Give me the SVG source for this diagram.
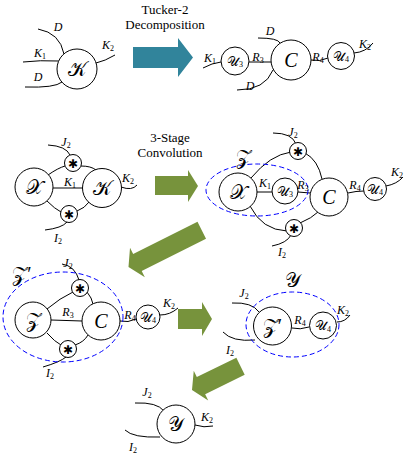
<svg xmlns="http://www.w3.org/2000/svg" width="407" height="456" viewBox="0 0 407 456">
<style>
.n{fill:#fff;stroke:#000;stroke-width:1}
.e{fill:none;stroke:#000;stroke-width:1}
.el{fill:none;stroke:#0000ff;stroke-width:1;stroke-dasharray:5,3}
.l{font-family:"Liberation Serif",serif;font-size:12px;font-style:italic;text-anchor:middle}
.s{font-size:8px;font-style:normal}
.t{font-family:"Liberation Serif",serif;font-size:13px;text-anchor:middle}
.big{font-family:"Liberation Serif","DejaVu Serif","Noto Sans",serif;font-size:20px;text-anchor:middle;dominant-baseline:central}
.sm{font-family:"Liberation Serif","DejaVu Serif","Noto Sans",serif;font-size:13px;text-anchor:middle;dominant-baseline:central}
.st{font-family:"DejaVu Sans",sans-serif;font-size:12px;text-anchor:middle;dominant-baseline:central}
</style>
<defs>
<g id="star"><circle class="n" r="8.5"/><text class="st" y="0.5">✱</text></g>
</defs>

<!-- arrows -->
<g id="arrows">
<polygon fill="#31849B" points="133,47 178,47 178,38 193,57.5 178,77 178,68 133,68"/>
<polygon fill="#77933C" points="155,176 188,176 188,170 198,186 188,202 188,195 155,195"/>
<polygon fill="#77933C" points="178,309 202,309 202,302 212,319 202,336 202,329 178,329"/>
<polygon fill="#77933C" transform="translate(128.5,267) rotate(153.3)" points="-82,-9.5 -10,-9.5 -10,-16.5 0,0 -10,16.5 -10,9.5 -82,9.5"/>
<polygon fill="#77933C" transform="translate(192,390) rotate(154)" points="-54,-9.5 -10,-9.5 -10,-16.5 0,0 -10,16.5 -10,9.5 -54,9.5"/>
</g>
<text class="t" x="165" y="14">Tucker-2</text>
<text class="t" x="165" y="29">Decomposition</text>
<text class="t" x="170" y="142">3-Stage</text>
<text class="t" x="170" y="157">Convolution</text>

<!-- connectors -->
<g id="connectors">
<path class="e" d="M38,29 Q60,33 64,54"/>
<path class="e" d="M23,62 Q40,60 58.7,61"/>
<path class="e" d="M25,87 Q55,88 62,82"/>
<path class="e" d="M96,63 Q105,61 115,55"/>
<path class="e" d="M203,68 Q212,63 221,62"/>
<path class="e" d="M249,62 L271,62"/>
<path class="e" d="M258,38 Q278,38 280,43"/>
<path class="e" d="M237,90 Q265,90 273,70"/>
<path class="e" d="M311,60 Q320,62 328,58"/>
<path class="e" d="M354,53 Q366,52 373,43"/>
<path class="e" d="M48,145 Q66,146 70,155"/>
<path class="e" d="M48,175 Q58,168 65,166"/>
<path class="e" d="M81,166 Q91,166 96,170"/>
<path class="e" d="M53,188 L83,188"/>
<path class="e" d="M47,201 Q55,209 61,212"/>
<path class="e" d="M77,211 Q85,208 89,202"/>
<path class="e" d="M45,230 Q62,228 67,222"/>
<path class="e" d="M121,187 Q132,191 137,185"/>
<path class="e" d="M273,133 Q292,133 296,144"/>
<path class="e" d="M251,178 Q270,155 291,152"/>
<path class="e" d="M305,153 Q318,160 322,179"/>
<path class="e" d="M250,206 Q262,230 287,231"/>
<path class="e" d="M300,223 Q312,218 318,212"/>
<path class="e" d="M272,246 Q287,243 291,235"/>
<path class="e" d="M257,192 L272,192"/>
<path class="e" d="M298,192 L310,193"/>
<path class="e" d="M348,193 Q356,191 364,191"/>
<path class="e" d="M386,186 Q397,184 403,177"/>
<path class="e" d="M62,264 Q75,266 79,280"/>
<path class="e" d="M43,367 Q60,362 66,357"/>
<path class="e" d="M47,309 Q60,298 73,292"/>
<path class="e" d="M87,292 Q92,298 93,304"/>
<path class="e" d="M47,333 Q55,342 61,345"/>
<path class="e" d="M75,345 Q84,342 88,335"/>
<path class="e" d="M51,320 L82,321"/>
<path class="e" d="M120,321 Q128,323 136,319"/>
<path class="e" d="M160,315 Q170,315 178,308"/>
<path class="e" d="M232,303 Q252,302 259,312"/>
<path class="e" d="M223,332 Q232,342 255,340"/>
<path class="e" d="M292,328 Q300,330 309,327"/>
<path class="e" d="M337,322 Q345,322 350,315"/>
<path class="e" d="M135,403 Q157,402 164,411"/>
<path class="e" d="M125,430 Q133,438 160,437"/>
<path class="e" d="M195,425 Q204,428 213,426"/>
</g>

<g id="groups">
<ellipse class="el" cx="257" cy="190" rx="51" ry="26"/>
<ellipse class="el" cx="63" cy="317" rx="60" ry="45"/>
<ellipse class="el" cx="292.5" cy="324.5" rx="46.5" ry="32.5"/>
</g>

<g id="n-K-top"><circle class="n" cx="77" cy="69" r="20"/><text class="big" x="77" y="69">𝒦</text></g>
<g id="n-U3-top"><circle class="n" cx="235" cy="61" r="14"/><text class="sm" x="235" y="61">𝒰<tspan class="s" dy="3">3</tspan></text></g>
<g id="n-C-top"><circle class="n" cx="291" cy="60" r="20"/><text class="big" x="291" y="60" font-style="italic">C</text></g>
<g id="n-U4-top"><circle class="n" cx="341" cy="56" r="13.5"/><text class="sm" x="341" y="56">𝒰<tspan class="s" dy="3">4</tspan></text></g>

<g id="n-X-r2l"><circle class="n" cx="34" cy="187" r="19"/><text class="big" x="34" y="187">𝒳</text></g>
<g id="n-K-r2l"><circle class="n" cx="102" cy="188" r="19.5"/><text class="big" x="102" y="188">𝒦</text></g>
<g id="n-s1-r2l"><use href="#star" x="73" y="163"/></g>
<g id="n-s2-r2l"><use href="#star" x="69" y="214"/></g>

<g id="n-X-r2r"><circle class="n" cx="238" cy="192" r="19"/><text class="big" x="238" y="192">𝒳</text></g>
<g id="n-U3-r2r"><circle class="n" cx="285" cy="191" r="13"/><text class="sm" x="285" y="191">𝒰<tspan class="s" dy="3">3</tspan></text></g>
<g id="n-C-r2r"><circle class="n" cx="329" cy="197" r="19"/><text class="big" x="329" y="197" font-style="italic">C</text></g>
<g id="n-U4-r2r"><circle class="n" cx="375" cy="189" r="11.5"/><text class="sm" x="375" y="189">𝒰<tspan class="s" dy="3">4</tspan></text></g>
<g id="n-s1-r2r"><use href="#star" x="298" y="151"/></g>
<g id="n-s2-r2r"><use href="#star" x="294" y="228"/></g>

<g id="n-Z-r3l"><circle class="n" cx="33" cy="320" r="18"/><text class="big" x="33" y="320">𝒵</text></g>
<g id="n-C-r3l"><circle class="n" cx="101" cy="321" r="19"/><text class="big" x="101" y="321" font-style="italic">C</text></g>
<g id="n-U4-r3l"><circle class="n" cx="148" cy="317" r="12"/><text class="sm" x="148" y="317">𝒰<tspan class="s" dy="3">4</tspan></text></g>
<g id="n-s1-r3l"><use href="#star" x="80" y="288"/></g>
<g id="n-s2-r3l"><use href="#star" x="68" y="349"/></g>

<g id="n-Zp-r3r"><circle class="n" cx="272.5" cy="326" r="19"/><text class="big" x="272.5" y="326">𝒵′</text></g>
<g id="n-U4-r3r"><circle class="n" cx="323" cy="325.5" r="13.5"/><text class="sm" x="323" y="325.5">𝒰<tspan class="s" dy="3">4</tspan></text></g>

<g id="n-Y-bot"><circle class="n" cx="176" cy="424" r="19"/><text class="big" x="176" y="424">𝒴</text></g>

<g id="labels">
<text class="l" x="58" y="31">D</text>
<text class="l" x="40" y="57">K<tspan class="s" dy="2">1</tspan></text>
<text class="l" x="38" y="81">D</text>
<text class="l" x="108" y="49">K<tspan class="s" dy="2">2</tspan></text>
<text class="l" x="210" y="62">K<tspan class="s" dy="2">1</tspan></text>
<text class="l" x="258" y="61">R<tspan class="s" dy="2">3</tspan></text>
<text class="l" x="270" y="35">D</text>
<text class="l" x="250" y="90">D</text>
<text class="l" x="318" y="61">R<tspan class="s" dy="2">4</tspan></text>
<text class="l" x="365" y="48">K<tspan class="s" dy="2">2</tspan></text>
<text class="l" x="66" y="146">J<tspan class="s" dy="2">2</tspan></text>
<text class="l" x="70" y="186">K<tspan class="s" dy="2">1</tspan></text>
<text class="l" x="128" y="182">K<tspan class="s" dy="2">2</tspan></text>
<text class="l" x="58" y="242">I<tspan class="s" dy="2">2</tspan></text>
<text class="l" x="293" y="136">J<tspan class="s" dy="2">2</tspan></text>
<text class="l" x="265" y="187">K<tspan class="s" dy="2">1</tspan></text>
<text class="l" x="303" y="189">R<tspan class="s" dy="2">3</tspan></text>
<text class="l" x="355" y="189">R<tspan class="s" dy="2">4</tspan></text>
<text class="l" x="397" y="176">K<tspan class="s" dy="2">2</tspan></text>
<text class="l" x="282" y="256">I<tspan class="s" dy="2">2</tspan></text>
<text class="big" x="243" y="157">𝒵</text>
<text class="big" x="22" y="274">𝒵′</text>
<text class="l" x="68" y="267">J<tspan class="s" dy="2">2</tspan></text>
<text class="l" x="50" y="377">I<tspan class="s" dy="2">2</tspan></text>
<text class="l" x="68" y="316">R<tspan class="s" dy="2">3</tspan></text>
<text class="l" x="130" y="319">R<tspan class="s" dy="2">4</tspan></text>
<text class="l" x="169" y="307">K<tspan class="s" dy="2">2</tspan></text>
<text class="big" x="293" y="280">𝒴</text>
<text class="l" x="244" y="297">J<tspan class="s" dy="2">2</tspan></text>
<text class="l" x="230" y="354">I<tspan class="s" dy="2">2</tspan></text>
<text class="l" x="300" y="324">R<tspan class="s" dy="2">4</tspan></text>
<text class="l" x="343" y="314">K<tspan class="s" dy="2">2</tspan></text>
<text class="l" x="147" y="396">J<tspan class="s" dy="2">2</tspan></text>
<text class="l" x="133" y="451">I<tspan class="s" dy="2">2</tspan></text>
<text class="l" x="207" y="421">K<tspan class="s" dy="2">2</tspan></text>
</g>
</svg>
